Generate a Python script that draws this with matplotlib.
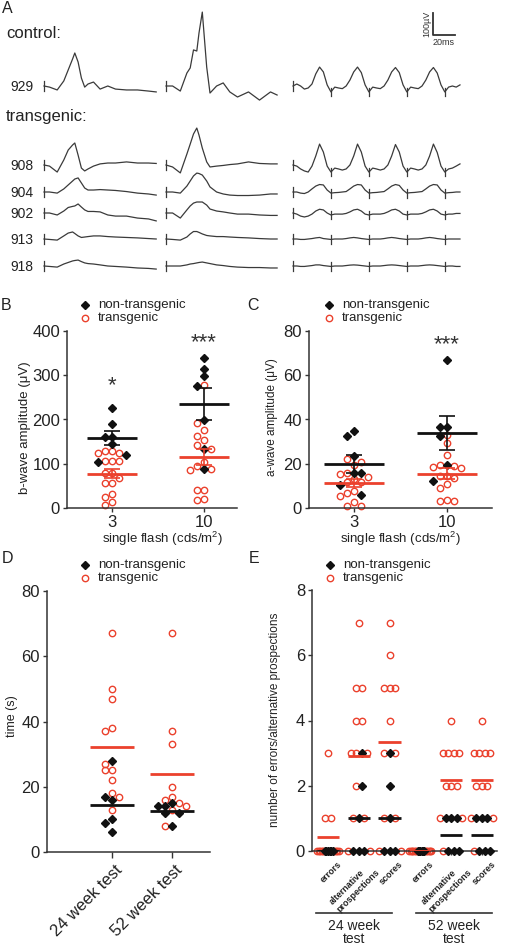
import numpy as np
import matplotlib
matplotlib.use('agg')
import matplotlib.pyplot as plt
import matplotlib.transforms as mtransforms

plt.rcParams['font.family'] = ['Liberation Sans', 'DejaVu Sans']
plt.rcParams['mathtext.default'] = 'regular'

# ---------------- panel A: ERG traces (time in ms, amplitude in uV) ----------------
ROW_IDS = ['929', '908', '904', '902', '913', '918']

FLASH3_T = [0, 5, 12, 18, 22, 26, 28, 31, 34, 37, 40, 45, 51, 58, 65, 75, 85, 95, 102]
FLASH3_UV = [
    [0, -5, -18, 23, 73, 123, 150, 109, 36, -5, 9, 18, -14, 0, -14, -18, -18, -23, -27],
    [0, -5, -32, 23, 68, 91, 100, 45, -14, -27, -18, -5, 5, 9, 9, 14, 9, 9, 7],
    [0, 0, -5, 14, 32, 50, 59, 64, 41, 18, 9, 9, 11, 9, 7, 2, -5, -9, -14],
    [0, 0, -9, 9, 25, 30, 32, 41, 27, 14, 7, 7, 5, -9, -14, -14, -23, -27, -36],
    [0, -2, -5, 14, 27, 32, 25, 14, 7, 9, 11, 14, 14, 11, 9, 7, 5, 2, 0],
    [0, -2, -5, 9, 16, 23, 25, 27, 20, 14, 11, 9, 5, 0, -2, -5, -9, -11, -14],
]

FLASH10_T = [0, 6, 13, 19, 22, 25, 28, 30, 33, 37, 40, 46, 52, 58, 65, 75, 85, 95, 101]
FLASH10_UV = [
    [0, 0, -23, 59, 82, 164, 159, 241, 336, 86, -32, 0, 14, -27, -50, -27, -64, -27, -41],
    [0, -9, -36, 50, 95, 141, 168, 136, 77, 14, -9, -5, -2, 2, 5, 14, 7, 5, 5],
    [0, 0, -5, 27, 50, 73, 86, 84, 77, 50, 23, 0, -9, -14, -16, -16, -14, -9, -9],
    [0, 0, -23, 14, 32, 45, 50, 50, 50, 36, 18, 9, 5, 0, -5, -5, -9, -11, -11],
    [0, -2, -5, 9, 23, 34, 34, 30, 23, 16, 14, 11, 11, 9, 7, 5, 2, 0, 0],
    [0, 0, 0, 5, 9, 11, 14, 16, 18, 14, 11, 5, 2, -2, -5, -7, -7, -9, -9],
]

# flicker: one sample every 3.45 ms, flashes every 10 samples
FLICKER_DT = 3.45
FLICKER_UV = [
    [0, 9, 0, -14, -9, 9, 55, 86, 64, 5,
     -27, -5, -9, -12, 0, 27, 64, 86, 61, 5,
     -27, -5, -9, -12, 0, 27, 64, 84, 61, 5,
     -27, -5, -9, -12, 0, 27, 64, 84, 59, 5,
     -27, -5, 0, -5, 5],
    [0, -5, -18, -27, -32, -5, 41, 95, 59, -5,
     -32, -14, -18, -23, -18, 0, 41, 95, 59, -5,
     -32, -14, -18, -23, -18, 0, 41, 93, 59, -5,
     -32, -14, -18, -23, -18, 0, 41, 95, 57, -5,
     -32, -18, -14, -5, 5],
    [0, 0, -5, -7, 0, 14, 27, 34, 32, 9,
     -5, -3, -2, 0, 2, 14, 27, 34, 32, 9,
     -5, -3, -2, 0, 2, 14, 27, 34, 30, 9,
     -5, -3, -2, 0, 2, 14, 27, 34, 32, 9,
     -5, -3, -2, 0, 0],
    [0, -5, -14, -18, -14, -5, 9, 17, 14, 0,
     -9, -5, -5, -5, -2, 5, 14, 17, 9, -5,
     -9, -5, -5, -5, -2, 5, 14, 17, 9, -5,
     -9, -5, -5, -5, -2, 5, 14, 17, 9, -5,
     -9, -5, -5, -2, -2],
    [0, 0, -2, -2, 0, 2, 5, 7, 2, 0,
     -2, 0, 0, 0, 2, 5, 7, 5, 2, 0,
     -2, 0, 0, 0, 2, 5, 7, 5, 2, 0,
     -2, 0, 0, 0, 2, 5, 7, 5, 2, 0,
     -2, 0, 0, 0, 0],
    [0, 0, -2, -2, 0, 2, 5, 5, 2, 0,
     -2, 0, 0, 0, 2, 4, 5, 4, 2, 0,
     -2, 0, 0, 0, 2, 4, 5, 4, 2, 0,
     -2, 0, 0, 0, 2, 4, 5, 4, 2, 0,
     -2, 0, 0, -2, -2],
]

# ---------------- panels B and C: single flash amplitudes (uV) ----------------
FLASH_LEVELS = ['3', '10']
B_NONTG = [[225, 190, 161, 160, 144, 119, 105], [338, 313, 298, 275, 199, 133, 88]]
B_TG = [[129, 128, 124, 125, 107, 107, 107, 79, 79, 68, 56, 56, 32, 25, 13, 6],
        [278, 193, 176, 163, 154, 143, 133, 105, 95, 88, 86, 41, 40, 17, 20]]
C_NONTG = [[35, 32.6, 23.3, 16, 15.8, 10.5, 6], [66.8, 36.8, 36.5, 32.6, 19.5, 12]]
C_TG = [[22, 21, 19.5, 16, 15.5, 14, 13, 11.7, 11.7, 7.5, 7, 5.3, 2.5, 0.7, 0.7],
        [33, 29.6, 24, 18.8, 18.5, 19.5, 18, 14.3, 14.3, 13.5, 10.8, 9, 3.8, 3, 3]]

# ---------------- panel D: time (s) ----------------
D_TESTS = ['24 week test', '52 week test']
D_NONTG = [[28, 17, 16, 10, 9, 6], [15, 14, 14, 12, 12, 8]]
D_TG = [[67, 50, 47, 38, 37, 27, 25, 25, 22, 18, 17, 13],
        [67, 37, 33, 20, 17, 16, 15, 14, 13, 8]]

# ---------------- panel E: counts ----------------
E_LABELS = ['errors', 'alternative\nprospections', 'scores',
            'errors', 'alternative\nprospections', 'scores']
E_NONTG = [[0, 0, 0, 0, 0, 0], [3, 2, 1, 0, 0, 0], [3, 2, 1, 0, 0, 0],
           [0, 0, 0, 0, 0, 0], [1, 1, 1, 0, 0, 0], [1, 1, 1, 0, 0, 0]]
E_TG = [[3, 1, 1, 0, 0, 0, 0, 0, 0, 0, 0, 0],
        [7, 5, 5, 4, 4, 3, 3, 3, 2, 1, 1, 0, 0],
        [7, 6, 5, 5, 5, 4, 3, 3, 1, 1, 0, 0],
        [0, 0, 0, 0, 0, 0, 0, 0, 0, 0, 0],
        [4, 3, 3, 3, 3, 2, 2, 2, 1, 1, 0],
        [4, 3, 3, 3, 3, 2, 2, 2, 1, 1, 0]]
E_BLOCKS = ['24 week\ntest', '52 week\ntest']

# ---------------- styling ----------------
W, H = 506, 947
RED = '#eb412d'
BLK = '#111111'
GREY = '#333333'
TXT = '#222222'
TRACE = '#3a3a3a'
DIA_MS, CIR_MS = 4.0, 4.6


def rect(l, t, r, b):
    return [l / W, 1 - b / H, (r - l) / W, (b - t) / H]


def style(ax):
    for s in ['top', 'right']:
        ax.spines[s].set_visible(False)
    for s in ['left', 'bottom']:
        ax.spines[s].set_color(GREY)
        ax.spines[s].set_linewidth(1.1)
    ax.tick_params(colors=GREY, labelcolor=TXT, length=3, width=1,
                   pad=2, labelsize=12)


def swarm(groups, ypx, step=7.0, dist=6.5):
    # simple beeswarm in pixel space, all datasets of one column together
    allv = np.concatenate([np.asarray(g, float) for g in groups])
    order = np.argsort(-allv, kind='stable')
    placed = []
    offs = np.zeros(len(allv))
    for i in order:
        y = allv[i] * ypx
        for k in [0, -1, 1, -2, 2, -3, 3, -4, 4, -5, 5]:
            x = k * step
            if all((x - px) ** 2 + (y - py) ** 2 >= dist ** 2 for px, py in placed):
                break
        placed.append((x, y))
        offs[i] = x
    out, n0 = [], 0
    for g in groups:
        out.append(offs[n0:n0 + len(g)])
        n0 += len(g)
    return out


def rows(nont, tg, step=5.5, maxw=22):
    # points with equal value side by side, non-transgenic in the middle
    ob, orr = np.zeros(len(nont)), np.zeros(len(tg))
    for v in sorted(set(nont) | set(tg)):
        ib = [i for i, x in enumerate(nont) if x == v]
        ir = [i for i, x in enumerate(tg) if x == v]
        n = len(ib) + len(ir)
        s = step if n < 2 else min(step, maxw / (n - 1))
        slots = list((np.arange(n) - (n - 1) / 2) * s)
        st = (n - len(ib) + 1) // 2
        bs = slots[st:st + len(ib)]
        rs = slots[:st] + slots[st + len(ib):]
        for i, x in zip(ib, bs):
            ob[i] = x
        for i, x in zip(ir, rs):
            orr[i] = x
    return ob, orr


def dots(ax, x, y, black):
    if black:
        ax.plot(x, y, 'D', ms=DIA_MS, color=BLK, ls='none', zorder=3, clip_on=False)
    else:
        ax.plot(x, y, 'o', ms=CIR_MS, mfc='none', mec=RED, mew=1.0, ls='none',
                zorder=2.5, clip_on=False)


fig = plt.figure(figsize=(W / 100, H / 100), dpi=100)


def scatter_panel(ax, nont, tg, xpx, ypx, half, sem=True, use_rows=False):
    for p in range(len(nont)):
        if use_rows:
            ob, orr = rows(nont[p], tg[p])
        else:
            ob, orr = swarm([nont[p], tg[p]], ypx)
        dots(ax, p + orr / xpx, tg[p], False)
        dots(ax, p + ob / xpx, nont[p], True)
        for vals, col in [(nont[p], BLK), (tg[p], RED)]:
            vals = np.asarray(vals, float)
            m = vals.mean()
            ax.hlines(m, p - half, p + half, color=col, lw=2.0, zorder=4)
            if sem:
                e = vals.std(ddof=1) / np.sqrt(len(vals))
                ax.errorbar(p, m, yerr=e, fmt='none', ecolor=col, elinewidth=1.2,
                            capsize=5.5, capthick=1.2, zorder=4)


# ---- B ----
axB = fig.add_axes(rect(67, 331, 237, 508))
style(axB)
axB.set_xlim(-0.489, 1.359)
axB.set_ylim(0, 400)
axB.set_yticks([0, 100, 200, 300, 400])
axB.set_xticks([0, 1])
axB.set_xticklabels(FLASH_LEVELS)
scatter_panel(axB, B_NONTG, B_TG, 92, 177 / 400, 0.27)
axB.text(0, 276, '*', ha='center', va='center', fontsize=16, color=GREY)
axB.text(1, 373, '***', ha='center', va='center', fontsize=16, color=GREY)

# ---- C ----
axC = fig.add_axes(rect(309, 331, 492, 508))
style(axC)
axC.set_xlim(-0.484, 1.484)
axC.set_ylim(0, 80)
axC.set_yticks([0, 20, 40, 60, 80])
axC.set_xticks([0, 1])
axC.set_xticklabels(FLASH_LEVELS)
scatter_panel(axC, C_NONTG, C_TG, 93, 177 / 80, 0.32)
axC.text(1, 74, '***', ha='center', va='center', fontsize=16, color=GREY)

# ---- D ----
axD = fig.add_axes(rect(47, 591, 210, 852))
style(axD)
axD.set_xlim(-1.083, 1.633)
axD.set_ylim(0, 80)
axD.set_yticks([0, 20, 40, 60, 80])
axD.set_xticks([0, 1])
axD.set_xticklabels(D_TESTS, rotation=45, ha='right', va='top',
                    rotation_mode='anchor')
axD.tick_params(axis='x', length=4, pad=2)
for lab in axD.get_xticklabels():
    lab.set_transform(lab.get_transform() +
                      mtransforms.ScaledTranslation(0.03, -0.02, fig.dpi_scale_trans))
scatter_panel(axD, D_NONTG, D_TG, 60, 261 / 80, 0.36, sem=False)

# ---- E ----
axE = fig.add_axes(rect(312, 590, 497, 851))
style(axE)
axE.set_xlim(-0.52, 5.49)
axE.set_ylim(0, 8)
axE.set_yticks([0, 2, 4, 6, 8])
axE.set_xticks(range(len(E_LABELS)))
axE.set_xticklabels(E_LABELS, rotation=45, ha='right', va='top',
                    rotation_mode='anchor', fontsize=6.5, fontweight='bold',
                    multialignment='left')
for lab in axE.get_xticklabels():
    lab.set_transform(lab.get_transform() +
                      mtransforms.ScaledTranslation(0.09, -0.02, fig.dpi_scale_trans))
scatter_panel(axE, E_NONTG, E_TG, 30.8, 261 / 8, 0.36, sem=False, use_rows=True)

# ---------------- overlay in pixel coordinates ----------------
ov = fig.add_axes([0, 0, 1, 1], zorder=10)
ov.set_xlim(0, W)
ov.set_ylim(H, 0)
ov.axis('off')

MS_PX, UV_PX = 1.1, 0.22
ROW_Y = [86, 165, 192, 213, 239, 266]
COL_X = [44, 166, 293]


def trace_tf(x0, y0):
    return mtransforms.Affine2D().scale(MS_PX, -UV_PX).translate(x0, y0) + ov.transData


for r, y0 in enumerate(ROW_Y):
    for x0, T, UV in [(COL_X[0], FLASH3_T, FLASH3_UV[r]), (COL_X[1], FLASH10_T, FLASH10_UV[r])]:
        ov.plot(T, UV, color=TRACE, lw=0.9, transform=trace_tf(x0, y0))
        ov.plot([0, 0], [-23, 23], color=TRACE, lw=0.9, transform=trace_tf(x0, y0))
    fv = FLICKER_UV[r]
    ft = np.arange(len(fv)) * FLICKER_DT
    tf = trace_tf(COL_X[2], y0)
    ov.plot(ft, fv, color=TRACE, lw=0.9, transform=tf)
    ov.plot([0, 0], [-23, 23], color=TRACE, lw=0.9, transform=tf)
    for k in range(10, len(fv), 10):
        ov.plot([ft[k], ft[k]], [fv[k] - 20, fv[k] + 18], color=TRACE, lw=0.9, transform=tf)
    ov.text(10, y0 + 1, ROW_IDS[r], ha='left', va='center', fontsize=10, color=TXT)

# scale bar 100 uV / 20 ms
sb = trace_tf(433, 35)
ov.plot([0, 0, 20], [100, 0, 0], color=GREY, lw=1.3, transform=sb)
ov.text(427, 24, '100µV', rotation=90, ha='center', va='center', fontsize=6.5, color=GREY)
ov.text(444, 42, '20ms', ha='center', va='center', fontsize=6.5, color=GREY)

ov.text(6, 33, 'control:', ha='left', va='center', fontsize=12, color=TXT)
ov.text(6, 116, 'transgenic:', ha='left', va='center', fontsize=12, color=TXT)

# panel letters
for s, x, y in [('A', 2, 8), ('B', 1, 305), ('C', 247, 305), ('D', 2, 558), ('E', 249, 558)]:
    ov.text(x, y, s, ha='left', va='center', fontsize=11.5, color=TXT)

# legends
for x, y in [(85, 305), (329, 305), (85, 565), (330, 565)]:
    ov.plot([x], [y], 'D', ms=DIA_MS, color=BLK)
    ov.plot([x], [y + 13], 'o', ms=CIR_MS, mfc='none', mec=RED, mew=1.0)
    ov.text(x + 13, y, 'non-transgenic', ha='left', va='center', fontsize=9.5, color=TXT)
    ov.text(x + 13, y + 13, 'transgenic', ha='left', va='center', fontsize=9.5, color=TXT)

# axis titles
ov.text(25, 428, 'b-wave amplitude (μV)', rotation=90, ha='center', va='center', fontsize=9.5, color=TXT)
ov.text(272, 417, 'a-wave amplitude (μV)', rotation=90, ha='center', va='center', fontsize=8.5, color=TXT)
ov.text(162, 539, 'single flash (cds/m$^2$)', ha='center', va='center', fontsize=9.5, color=TXT)
ov.text(400, 539, 'single flash (cds/m$^2$)', ha='center', va='center', fontsize=9.5, color=TXT)
ov.text(12, 716, 'time (s)', rotation=90, ha='center', va='center', fontsize=9, color=TXT)
ov.text(275, 720, 'number of errors/alternative prospections', rotation=90,
        ha='center', va='center', fontsize=8.5, color=TXT)

# brackets under panel E
for (x1, x2), lab in zip([(316, 392), (416, 492)], E_BLOCKS):
    ov.plot([x1, x2], [913, 913], color=GREY, lw=1.2)
    ov.text((x1 + x2) / 2, 919, lab, ha='center', va='top', fontsize=10,
            linespacing=0.95, color=TXT)

fig.savefig('out.png', dpi=100)
